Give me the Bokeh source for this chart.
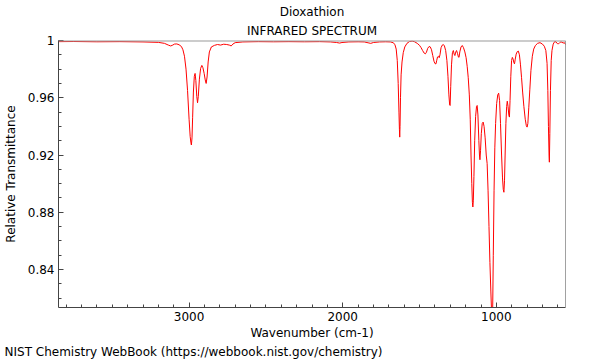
from bokeh.plotting import figure
from bokeh.models import Range1d, FixedTicker, Title, Span
from bokeh.embed import file_html
from bokeh.resources import INLINE

title_text = "Dioxathion"
subtitle_text = "INFRARED SPECTRUM"
x_label_text = "Wavenumber (cm-1)"
y_label_text = "Relative Transmittance"
footer_text = "NIST Chemistry WebBook (https://webbook.nist.gov/chemistry)"

wavenumber = [
    3850, 3750, 3600, 3450, 3300, 3200, 3160, 3135, 3120, 3110, 3095, 3080, 3065, 3050, 3040,
    3030, 3020, 3010, 3000, 2993, 2988, 2985, 2981, 2977, 2972, 2966, 2961, 2956, 2950, 2945,
    2940, 2933, 2925, 2917, 2910, 2902, 2895, 2889, 2883, 2876, 2868, 2855, 2835, 2815, 2795,
    2775, 2755, 2738, 2726, 2715, 2700, 2650, 2550, 2450, 2350, 2250, 2150, 2080, 2040, 2020,
    2005, 1960, 1900, 1860, 1835, 1818, 1800, 1760, 1720, 1690, 1670, 1660, 1652, 1645, 1639,
    1634, 1631, 1629, 1627, 1624, 1620, 1614, 1606, 1596, 1582, 1565, 1548, 1532, 1515, 1500,
    1490, 1480, 1470, 1462, 1455, 1447, 1438, 1430, 1422, 1414, 1406, 1399, 1393, 1388, 1383,
    1378, 1372, 1367, 1360, 1352, 1345, 1338, 1330, 1322, 1315, 1309, 1304, 1301, 1297, 1292,
    1286, 1280, 1275, 1270, 1264, 1259, 1253, 1247, 1243, 1238, 1230, 1222, 1214, 1205, 1197,
    1190, 1183, 1176, 1170, 1165, 1160, 1156, 1153, 1150, 1146, 1141, 1135, 1129, 1125, 1120,
    1114, 1110, 1107, 1103, 1098, 1092, 1086, 1080, 1073, 1066, 1060, 1054, 1048, 1042, 1036,
    1031, 1028, 1024, 1020, 1015, 1010, 1005, 998, 991, 985, 979, 973, 966, 960, 955,
    951, 947, 943, 938, 933, 929, 924, 919, 915, 911, 906, 901, 896, 891, 886,
    882, 877, 871, 864, 857, 850, 843, 836, 829, 821, 812, 805, 800, 795, 789,
    782, 775, 766, 757, 746, 732, 716, 700, 688, 678, 670, 665, 661, 657, 655,
    652, 648, 643, 638, 630, 620, 612, 603, 595, 588, 580, 573, 565, 558, 550,
]
transmittance = [
    0.9992, 0.9993, 0.9991, 0.9992, 0.9990, 0.9987, 0.9980, 0.9968, 0.9962, 0.9966, 0.9975, 0.9976, 0.9970, 0.9958, 0.9935,
    0.9890, 0.9800, 0.9650, 0.9450, 0.9330, 0.9285, 0.9270, 0.9320, 0.9460, 0.9640, 0.9750, 0.9770, 0.9720, 0.9610, 0.9565,
    0.9610, 0.9730, 0.9805, 0.9826, 0.9810, 0.9770, 0.9725, 0.9700, 0.9745, 0.9850, 0.9920, 0.9955, 0.9966, 0.9972, 0.9968,
    0.9974, 0.9972, 0.9968, 0.9962, 0.9975, 0.9985, 0.9990, 0.9992, 0.9991, 0.9992, 0.9991, 0.9992, 0.9990, 0.9986, 0.9982,
    0.9986, 0.9990, 0.9991, 0.9990, 0.9984, 0.9980, 0.9986, 0.9990, 0.9991, 0.9990, 0.9984, 0.9970, 0.9940, 0.9860, 0.9700,
    0.9500, 0.9380, 0.9325, 0.9400, 0.9600, 0.9760, 0.9850, 0.9915, 0.9955, 0.9980, 0.9993, 0.9996, 0.9991, 0.9980, 0.9966,
    0.9950, 0.9930, 0.9912, 0.9907, 0.9918, 0.9945, 0.9958, 0.9955, 0.9935, 0.9895, 0.9855, 0.9838, 0.9837, 0.9862, 0.9885,
    0.9890, 0.9880, 0.9900, 0.9950, 0.9968, 0.9972, 0.9962, 0.9930, 0.9860, 0.9750, 0.9620, 0.9550, 0.9546, 0.9680, 0.9830,
    0.9915, 0.9930, 0.9905, 0.9895, 0.9920, 0.9930, 0.9910, 0.9885, 0.9882, 0.9920, 0.9955, 0.9965, 0.9950, 0.9920, 0.9880,
    0.9820, 0.9740, 0.9620, 0.9450, 0.9200, 0.9000, 0.8870, 0.8837, 0.8880, 0.9050, 0.9300, 0.9470, 0.9540, 0.9546, 0.9480,
    0.9300, 0.9200, 0.9167, 0.9230, 0.9350, 0.9420, 0.9430, 0.9400, 0.9320, 0.9200, 0.9140, 0.8950, 0.8700, 0.8450, 0.8250,
    0.8100, 0.8000, 0.8120, 0.8500, 0.8950, 0.9250, 0.9420, 0.9560, 0.9620, 0.9632, 0.9580, 0.9420, 0.9200, 0.9040, 0.8960,
    0.8940, 0.9020, 0.9200, 0.9420, 0.9540, 0.9576, 0.9540, 0.9480, 0.9465, 0.9580, 0.9750, 0.9860, 0.9882, 0.9870, 0.9845,
    0.9837, 0.9870, 0.9905, 0.9922, 0.9926, 0.9900, 0.9830, 0.9740, 0.9640, 0.9540, 0.9450, 0.9405, 0.9395, 0.9420, 0.9530,
    0.9660, 0.9790, 0.9890, 0.9940, 0.9965, 0.9980, 0.9985, 0.9975, 0.9960, 0.9930, 0.9840, 0.9650, 0.9400, 0.9200, 0.9150,
    0.9350, 0.9650, 0.9860, 0.9930, 0.9975, 0.9993, 0.9990, 0.9978, 0.9977, 0.9985, 0.9990, 0.9988, 0.9982, 0.9986, 0.9972,
]

x_ticks = [1000, 2000, 3000]
x_minor_ticks = [600, 700, 800, 900, 1100, 1200, 1300, 1400, 1500, 1600, 1700, 1800, 1900,
                 2100, 2200, 2300, 2400, 2500, 2600, 2700, 2800, 2900, 3100, 3200, 3300,
                 3400, 3500, 3600, 3700, 3800]
y_ticks = [0.84, 0.88, 0.92, 0.96, 1.0]
y_tick_labels = ["0.84", "0.88", "0.92", "0.96", "1"]
y_minor_ticks = [0.82, 0.83, 0.85, 0.86, 0.87, 0.89, 0.90, 0.91, 0.93, 0.94, 0.95, 0.97, 0.98, 0.99]

x_start, x_end = 3850, 550
y_start, y_end = 0.8135, 1.0

FONT = "DejaVu Sans"

p = figure(width=600, height=360, output_backend="svg", toolbar_location=None,
           x_range=Range1d(x_start, x_end), y_range=Range1d(y_start, y_end),
           min_border_left=57, min_border_right=35, min_border_top=40, min_border_bottom=53)
p.outline_line_color = None
p.grid.visible = False
p.background_fill_color = "white"
p.border_fill_color = "white"

for ax in (p.xaxis[0], p.yaxis[0]):
    ax.axis_line_color = "#444444"
    ax.axis_line_width = 1
    ax.major_tick_line_color = "#444444"
    ax.minor_tick_line_color = "#444444"
    ax.major_tick_out = 0
    ax.minor_tick_out = 0
    ax.major_tick_in = 5
    ax.minor_tick_in = 3
    ax.major_label_text_font = FONT
    ax.major_label_text_font_size = "12px"
    ax.major_label_text_color = "black"
    ax.major_label_standoff = 4
    ax.axis_label_text_font = FONT
    ax.axis_label_text_font_size = "12px"
    ax.axis_label_text_font_style = "normal"
    ax.axis_label_text_color = "black"

p.xaxis.ticker = FixedTicker(ticks=x_ticks, minor_ticks=x_minor_ticks)
p.yaxis.ticker = FixedTicker(ticks=y_ticks, minor_ticks=y_minor_ticks)
p.yaxis.major_label_overrides = {v: s for v, s in zip(y_ticks, y_tick_labels)}
p.xaxis.axis_label = x_label_text
p.xaxis.axis_label_standoff = 2
p.yaxis.axis_label = y_label_text
p.yaxis.axis_label_standoff = 7

p.add_layout(Span(location=y_end, dimension="width", line_color="#999999", line_width=2))
p.add_layout(Span(location=x_end, dimension="height", line_color="#444444", line_width=1))

p.line(wavenumber, transmittance, line_color="#ff0000", line_width=1)

p.add_layout(Title(text=subtitle_text, align="center", standoff=6, text_font=FONT,
                   text_font_size="12px", text_font_style="normal", text_color="black"), "above")
p.add_layout(Title(text=title_text, align="center", standoff=0, text_font=FONT,
                   text_font_size="12px", text_font_style="normal", text_color="black"), "above")
p.add_layout(Title(text=footer_text, align="left", standoff=1, offset=-54, text_font=FONT,
                   text_font_size="12px", text_font_style="normal", text_color="black"), "below")

open("out.html", "w").write(file_html(p, INLINE))
